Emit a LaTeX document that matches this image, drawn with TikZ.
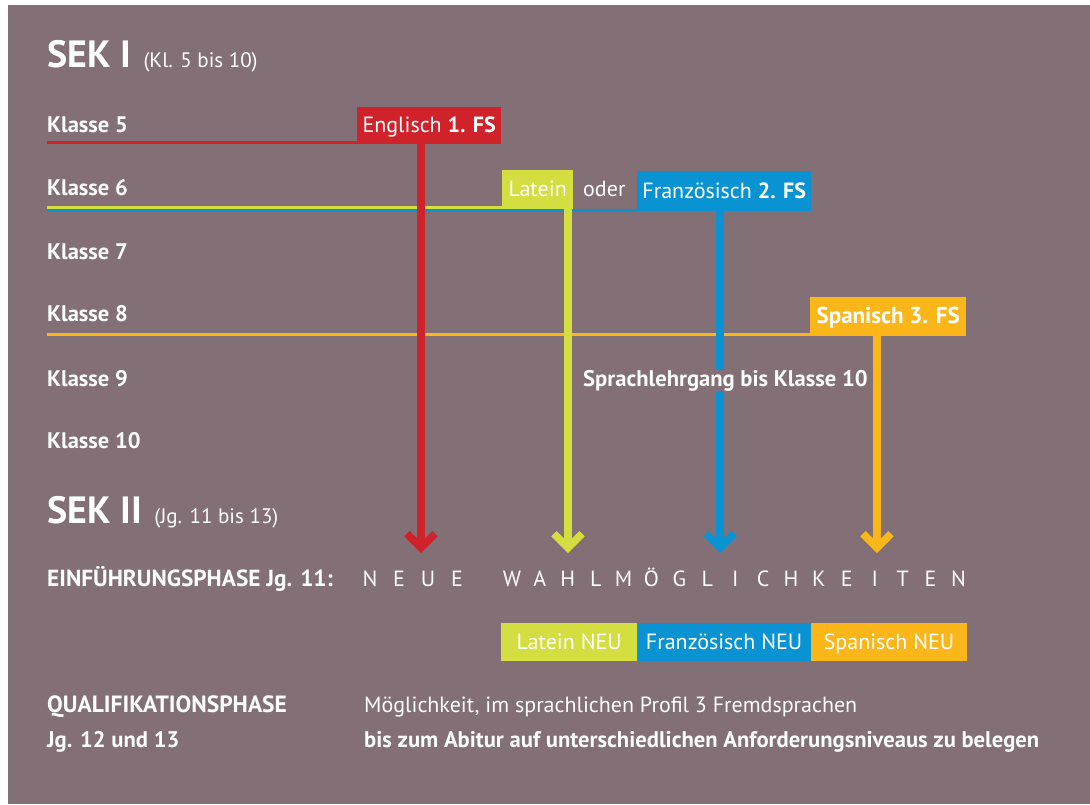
\documentclass[tikz,border=0pt]{standalone}
\usepackage{fontspec}
\setmainfont{PT Sans}
\usepackage{tikz}
\usetikzlibrary{arrows.meta}

\definecolor{hgrund}{HTML}{836F76}
\definecolor{fsrot}{HTML}{D0222A}
\definecolor{fsgruen}{HTML}{D4DE40}
\definecolor{fsblau}{HTML}{0A93D3}
\definecolor{fsorange}{HTML}{FBB619}

\tikzset{
  txt/.style={text=white, inner sep=0pt, anchor=base west, font=\fontsize{22}{26}\selectfont},
  fett/.style={txt, font=\fontsize{22.6}{26}\selectfont\bfseries},
  klasse/.style={txt, font=\fontsize{22.5}{26}\selectfont\bfseries},
  sek/.style={txt, font=\fontsize{38}{44}\selectfont\bfseries},
  sekzusatz/.style={txt, font=\fontsize{21}{25}\selectfont},
  sperr/.style={text=white, inner sep=0pt, anchor=base, font=\fontsize{22}{26}\selectfont},
  fsbox/.style={fill=#1, text=white, inner sep=0pt, anchor=south west, text height=15pt, text depth=0pt, font=\fontsize{22}{26}\selectfont},
  linie/.style={draw=#1, line width=3pt},
  pfeil/.style={draw=#1, line width=7.5pt, -{Straight Barb[length=14pt, width=28pt]}},
}

\begin{document}
\begin{tikzpicture}[x=1pt, y=-1pt]

	% Hintergrund
	\fill[white] (0,0) rectangle (1090,804);
	\fill[hgrund] (8,5) rectangle (1090,804);

	% SEK I
	\node[sek] (sek1) at (47,67) {SEK I};
	\node[sekzusatz] (sek1k) at ([xshift=12pt]sek1.base east) {(Kl. 5 bis 10)};

	\foreach \n/\y in {5/132, 6/195, 7/259, 8/321, 9/386, 10/448}
		\node[klasse] (k\n) at (47,\y) {Klasse \n};

	% Fremdsprachen
	\node[fsbox=fsrot, minimum width=144pt, minimum height=37pt] (engl) at (357,144) {Englisch \textbf{1. FS}};
	\node[fsbox=fsgruen, minimum width=71pt, minimum height=39pt] (latein) at (502,209) {Latein};
	\node[txt] (oder) at (583,196) {oder};
	\node[fsbox=fsblau, minimum width=174pt, minimum height=40pt] (franz) at (637,211) {Französisch \textbf{2. FS}};
	\node[fsbox=fsorange, minimum width=156pt, minimum height=39pt, font=\fontsize{23}{27}\selectfont\bfseries] (span) at (810,336) {Spanisch 3. FS};

	\coordinate (a5) at (47,142.5);
	\coordinate (a6g) at (47,207.3);
	\coordinate (a6b) at (47,210.2);
	\coordinate (a8) at (47,334.5);

	\draw[linie=fsblau] (a6b) -- (a6b -| franz.west);
	\draw[linie=fsgruen] (a6g) -- (a6g -| latein.west);
	\draw[linie=fsrot] (a5) -- (a5 -| engl.west);
	\draw[linie=fsorange] (a8) -- (a8 -| span.west);

	% Pfeile
	\coordinate (p1) at (421,553);
	\coordinate (p2) at (568,553);
	\coordinate (p3) at (720,553);
	\coordinate (p4) at (877,553);

	\draw[pfeil=fsgruen] (latein.south -| p2) -- (p2);
	\draw[pfeil=fsblau] (franz.south -| p3) -- (p3);
	\draw[pfeil=fsorange] (span.south -| p4) -- (p4);
	\draw[pfeil=fsrot] (engl.south -| p1) -- (p1);

	\node[fett, fill=hgrund] (lehrgang) at (583,386) {Sprachlehrgang bis Klasse 10};

	% SEK II
	\node[sek] (sek2) at (47,523) {SEK II};
	\node[sekzusatz] (sek2k) at ([xshift=12pt]sek2.base east) {(Jg. 11 bis 13)};

	\node[fett, font=\fontsize{23.3}{27}\selectfont\bfseries] (einf) at (47,586) {EINFÜHRUNGSPHASE Jg. 11:};
	\foreach \b [count=\i from 0] in {N,E,U,E}
		\node[sperr] (n\i) at ({370+29*\i},586) {\b};
	\foreach \b [count=\i from 0] in {W,A,H,L,M,Ö,G,L,I,C,H,K,E,I,T,E,N}
		\node[sperr] (w\i) at ({512+27.9*\i},586) {\b};

	\node[fsbox=fsgruen, minimum width=136pt, minimum height=38pt] (neu1) at (501,661) {Latein NEU};
	\node[fsbox=fsblau, minimum width=173pt, minimum height=38pt] (neu2) at (neu1.south east) {Französisch NEU};
	\node[fsbox=fsorange, minimum width=156pt, minimum height=38pt] (neu3) at (neu2.south east) {Spanisch NEU};

	% Qualifikationsphase
	\node[fett, font=\fontsize{23.5}{27}\selectfont\bfseries] (quali) at (47,712) {QUALIFIKATIONSPHASE};
	\node[fett] (jg) at (47,747) {Jg. 12 und 13};
	\node[txt] (mgl) at (364,712) {Möglichkeit, im sprachlichen Profil 3 Fremdsprachen};
	\node[fett] (abi) at (364,747) {bis zum Abitur auf unterschiedlichen Anforderungsniveaus zu belegen};

\end{tikzpicture}
\end{document}
